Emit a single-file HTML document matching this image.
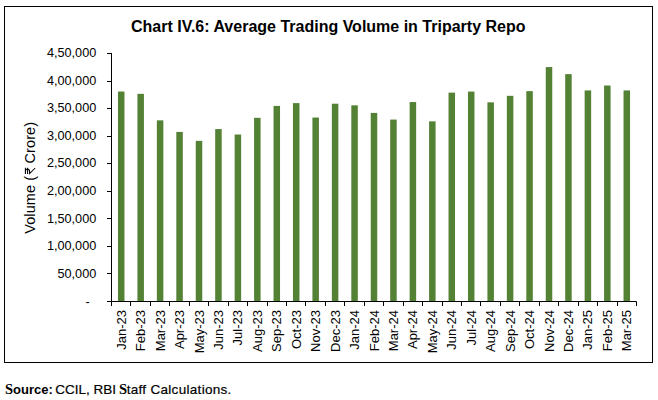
<!DOCTYPE html>
<html><head><meta charset="utf-8"><style>
html,body{margin:0;padding:0;background:#fff;width:658px;height:400px;overflow:hidden}
svg{display:block}
text{font-family:"Liberation Sans",sans-serif}
</style></head><body>
<svg width="658" height="400" viewBox="0 0 658 400" font-family="Liberation Sans, sans-serif" fill="#000"><rect x="4.5" y="6.5" width="648" height="356" fill="none" stroke="#000" stroke-width="1"/>
<text x="131" y="31.5" font-size="16" font-weight="bold" fill="#000">Chart IV.6: Average Trading Volume in Triparty Repo</text>
<rect x="117.97" y="91.53" width="6.5" height="209.97" fill="#548235"/>
<rect x="137.42" y="93.84" width="6.5" height="207.66" fill="#548235"/>
<rect x="156.86" y="120.35" width="6.5" height="181.15" fill="#548235"/>
<rect x="176.31" y="131.92" width="6.5" height="169.58" fill="#548235"/>
<rect x="195.75" y="140.85" width="6.5" height="160.65" fill="#548235"/>
<rect x="215.19" y="129.06" width="6.5" height="172.44" fill="#548235"/>
<rect x="234.64" y="134.51" width="6.5" height="166.99" fill="#548235"/>
<rect x="254.08" y="117.81" width="6.5" height="183.69" fill="#548235"/>
<rect x="273.53" y="105.91" width="6.5" height="195.59" fill="#548235"/>
<rect x="292.97" y="103.10" width="6.5" height="198.40" fill="#548235"/>
<rect x="312.42" y="117.54" width="6.5" height="183.96" fill="#548235"/>
<rect x="331.86" y="103.71" width="6.5" height="197.79" fill="#548235"/>
<rect x="351.31" y="105.33" width="6.5" height="196.17" fill="#548235"/>
<rect x="370.75" y="112.91" width="6.5" height="188.59" fill="#548235"/>
<rect x="390.19" y="119.58" width="6.5" height="181.92" fill="#548235"/>
<rect x="409.64" y="102.05" width="6.5" height="199.45" fill="#548235"/>
<rect x="429.08" y="121.34" width="6.5" height="180.16" fill="#548235"/>
<rect x="448.53" y="92.63" width="6.5" height="208.87" fill="#548235"/>
<rect x="467.97" y="91.58" width="6.5" height="209.92" fill="#548235"/>
<rect x="487.42" y="102.33" width="6.5" height="199.17" fill="#548235"/>
<rect x="506.86" y="95.83" width="6.5" height="205.67" fill="#548235"/>
<rect x="526.31" y="91.14" width="6.5" height="210.36" fill="#548235"/>
<rect x="545.75" y="67.06" width="6.5" height="234.44" fill="#548235"/>
<rect x="565.19" y="74.11" width="6.5" height="227.39" fill="#548235"/>
<rect x="584.64" y="90.42" width="6.5" height="211.08" fill="#548235"/>
<rect x="604.08" y="85.52" width="6.5" height="215.98" fill="#548235"/>
<rect x="623.53" y="90.42" width="6.5" height="211.08" fill="#548235"/>
<path d="M111.5 53.0V301.5H636.5" fill="none" stroke="#000" stroke-width="1"/>
<line x1="107" y1="301.5" x2="111.5" y2="301.5" stroke="#000" stroke-width="1"/>
<text x="89.7" y="306.10" font-size="12.7" text-anchor="end">-</text>
<line x1="107" y1="273.5" x2="111.5" y2="273.5" stroke="#000" stroke-width="1"/>
<text x="96.3" y="277.64" font-size="12.7" text-anchor="end">50,000</text>
<line x1="107" y1="246.5" x2="111.5" y2="246.5" stroke="#000" stroke-width="1"/>
<text x="96.3" y="250.09" font-size="12.7" text-anchor="end">1,00,000</text>
<line x1="107" y1="218.5" x2="111.5" y2="218.5" stroke="#000" stroke-width="1"/>
<text x="96.3" y="222.53" font-size="12.7" text-anchor="end">1,50,000</text>
<line x1="107" y1="191.5" x2="111.5" y2="191.5" stroke="#000" stroke-width="1"/>
<text x="96.3" y="194.98" font-size="12.7" text-anchor="end">2,00,000</text>
<line x1="107" y1="163.5" x2="111.5" y2="163.5" stroke="#000" stroke-width="1"/>
<text x="96.3" y="167.42" font-size="12.7" text-anchor="end">2,50,000</text>
<line x1="107" y1="136.5" x2="111.5" y2="136.5" stroke="#000" stroke-width="1"/>
<text x="96.3" y="139.87" font-size="12.7" text-anchor="end">3,00,000</text>
<line x1="107" y1="108.5" x2="111.5" y2="108.5" stroke="#000" stroke-width="1"/>
<text x="96.3" y="112.31" font-size="12.7" text-anchor="end">3,50,000</text>
<line x1="107" y1="81.5" x2="111.5" y2="81.5" stroke="#000" stroke-width="1"/>
<text x="96.3" y="84.76" font-size="12.7" text-anchor="end">4,00,000</text>
<line x1="107" y1="53.5" x2="111.5" y2="53.5" stroke="#000" stroke-width="1"/>
<text x="96.3" y="57.20" font-size="12.7" text-anchor="end">4,50,000</text>
<line x1="111.5" y1="301.5" x2="111.5" y2="306" stroke="#000" stroke-width="1"/>
<line x1="130.5" y1="301.5" x2="130.5" y2="306" stroke="#000" stroke-width="1"/>
<line x1="150.5" y1="301.5" x2="150.5" y2="306" stroke="#000" stroke-width="1"/>
<line x1="169.5" y1="301.5" x2="169.5" y2="306" stroke="#000" stroke-width="1"/>
<line x1="189.5" y1="301.5" x2="189.5" y2="306" stroke="#000" stroke-width="1"/>
<line x1="208.5" y1="301.5" x2="208.5" y2="306" stroke="#000" stroke-width="1"/>
<line x1="228.5" y1="301.5" x2="228.5" y2="306" stroke="#000" stroke-width="1"/>
<line x1="247.5" y1="301.5" x2="247.5" y2="306" stroke="#000" stroke-width="1"/>
<line x1="267.5" y1="301.5" x2="267.5" y2="306" stroke="#000" stroke-width="1"/>
<line x1="286.5" y1="301.5" x2="286.5" y2="306" stroke="#000" stroke-width="1"/>
<line x1="305.5" y1="301.5" x2="305.5" y2="306" stroke="#000" stroke-width="1"/>
<line x1="325.5" y1="301.5" x2="325.5" y2="306" stroke="#000" stroke-width="1"/>
<line x1="344.5" y1="301.5" x2="344.5" y2="306" stroke="#000" stroke-width="1"/>
<line x1="364.5" y1="301.5" x2="364.5" y2="306" stroke="#000" stroke-width="1"/>
<line x1="383.5" y1="301.5" x2="383.5" y2="306" stroke="#000" stroke-width="1"/>
<line x1="403.5" y1="301.5" x2="403.5" y2="306" stroke="#000" stroke-width="1"/>
<line x1="422.5" y1="301.5" x2="422.5" y2="306" stroke="#000" stroke-width="1"/>
<line x1="442.5" y1="301.5" x2="442.5" y2="306" stroke="#000" stroke-width="1"/>
<line x1="461.5" y1="301.5" x2="461.5" y2="306" stroke="#000" stroke-width="1"/>
<line x1="480.5" y1="301.5" x2="480.5" y2="306" stroke="#000" stroke-width="1"/>
<line x1="500.5" y1="301.5" x2="500.5" y2="306" stroke="#000" stroke-width="1"/>
<line x1="519.5" y1="301.5" x2="519.5" y2="306" stroke="#000" stroke-width="1"/>
<line x1="539.5" y1="301.5" x2="539.5" y2="306" stroke="#000" stroke-width="1"/>
<line x1="558.5" y1="301.5" x2="558.5" y2="306" stroke="#000" stroke-width="1"/>
<line x1="578.5" y1="301.5" x2="578.5" y2="306" stroke="#000" stroke-width="1"/>
<line x1="597.5" y1="301.5" x2="597.5" y2="306" stroke="#000" stroke-width="1"/>
<line x1="617.5" y1="301.5" x2="617.5" y2="306" stroke="#000" stroke-width="1"/>
<line x1="636.5" y1="301.5" x2="636.5" y2="306" stroke="#000" stroke-width="1"/>
<text transform="translate(125.82,310.0) rotate(-90)" font-size="13" text-anchor="end">Jan-23</text>
<text transform="translate(145.27,310.0) rotate(-90)" font-size="13" text-anchor="end">Feb-23</text>
<text transform="translate(164.71,310.0) rotate(-90)" font-size="13" text-anchor="end">Mar-23</text>
<text transform="translate(184.16,310.0) rotate(-90)" font-size="13" text-anchor="end">Apr-23</text>
<text transform="translate(203.60,310.0) rotate(-90)" font-size="13" text-anchor="end">May-23</text>
<text transform="translate(223.04,310.0) rotate(-90)" font-size="13" text-anchor="end">Jun-23</text>
<text transform="translate(242.49,310.0) rotate(-90)" font-size="13" text-anchor="end">Jul-23</text>
<text transform="translate(261.93,310.0) rotate(-90)" font-size="13" text-anchor="end">Aug-23</text>
<text transform="translate(281.38,310.0) rotate(-90)" font-size="13" text-anchor="end">Sep-23</text>
<text transform="translate(300.82,310.0) rotate(-90)" font-size="13" text-anchor="end">Oct-23</text>
<text transform="translate(320.27,310.0) rotate(-90)" font-size="13" text-anchor="end">Nov-23</text>
<text transform="translate(339.71,310.0) rotate(-90)" font-size="13" text-anchor="end">Dec-23</text>
<text transform="translate(359.16,310.0) rotate(-90)" font-size="13" text-anchor="end">Jan-24</text>
<text transform="translate(378.60,310.0) rotate(-90)" font-size="13" text-anchor="end">Feb-24</text>
<text transform="translate(398.04,310.0) rotate(-90)" font-size="13" text-anchor="end">Mar-24</text>
<text transform="translate(417.49,310.0) rotate(-90)" font-size="13" text-anchor="end">Apr-24</text>
<text transform="translate(436.93,310.0) rotate(-90)" font-size="13" text-anchor="end">May-24</text>
<text transform="translate(456.38,310.0) rotate(-90)" font-size="13" text-anchor="end">Jun-24</text>
<text transform="translate(475.82,310.0) rotate(-90)" font-size="13" text-anchor="end">Jul-24</text>
<text transform="translate(495.27,310.0) rotate(-90)" font-size="13" text-anchor="end">Aug-24</text>
<text transform="translate(514.71,310.0) rotate(-90)" font-size="13" text-anchor="end">Sep-24</text>
<text transform="translate(534.16,310.0) rotate(-90)" font-size="13" text-anchor="end">Oct-24</text>
<text transform="translate(553.60,310.0) rotate(-90)" font-size="13" text-anchor="end">Nov-24</text>
<text transform="translate(573.04,310.0) rotate(-90)" font-size="13" text-anchor="end">Dec-24</text>
<text transform="translate(592.49,310.0) rotate(-90)" font-size="13" text-anchor="end">Jan-25</text>
<text transform="translate(611.93,310.0) rotate(-90)" font-size="13" text-anchor="end">Feb-25</text>
<text transform="translate(631.38,310.0) rotate(-90)" font-size="13" text-anchor="end">Mar-25</text>
<g transform="translate(35.2,177.8) rotate(-90)"><text x="-56" y="0" font-size="14.5" letter-spacing="0.1">Volume (</text><path d="M3.8 -9.8H10M3.8 -7.6H10M6.2 -9.8C9.6 -9.8 9.6 -5.6 6.2 -5.6H4.2L9.8 0" fill="none" stroke="#000" stroke-width="1.05"/><text x="14.3" y="0" font-size="14.5" letter-spacing="0.1">Crore)</text></g>
<text x="5" y="393.5" font-size="13" font-weight="bold"><tspan style="font-family:&quot;Liberation Serif&quot;,serif;font-size:14.5px;font-weight:bold">S</tspan>ource:</text><text x="55.3" y="393.5" font-size="13.5" stroke="#000" stroke-width="0.2">CCIL, RBI</text><text x="119" y="393.5" font-size="13"><tspan style="font-family:&quot;Liberation Serif&quot;,serif;font-size:14.5px;font-weight:bold">S</tspan></text><text x="126.7" y="393.5" font-size="13.5" letter-spacing="0.3" stroke="#000" stroke-width="0.2">taff Calculations.</text></svg>
</body></html>
